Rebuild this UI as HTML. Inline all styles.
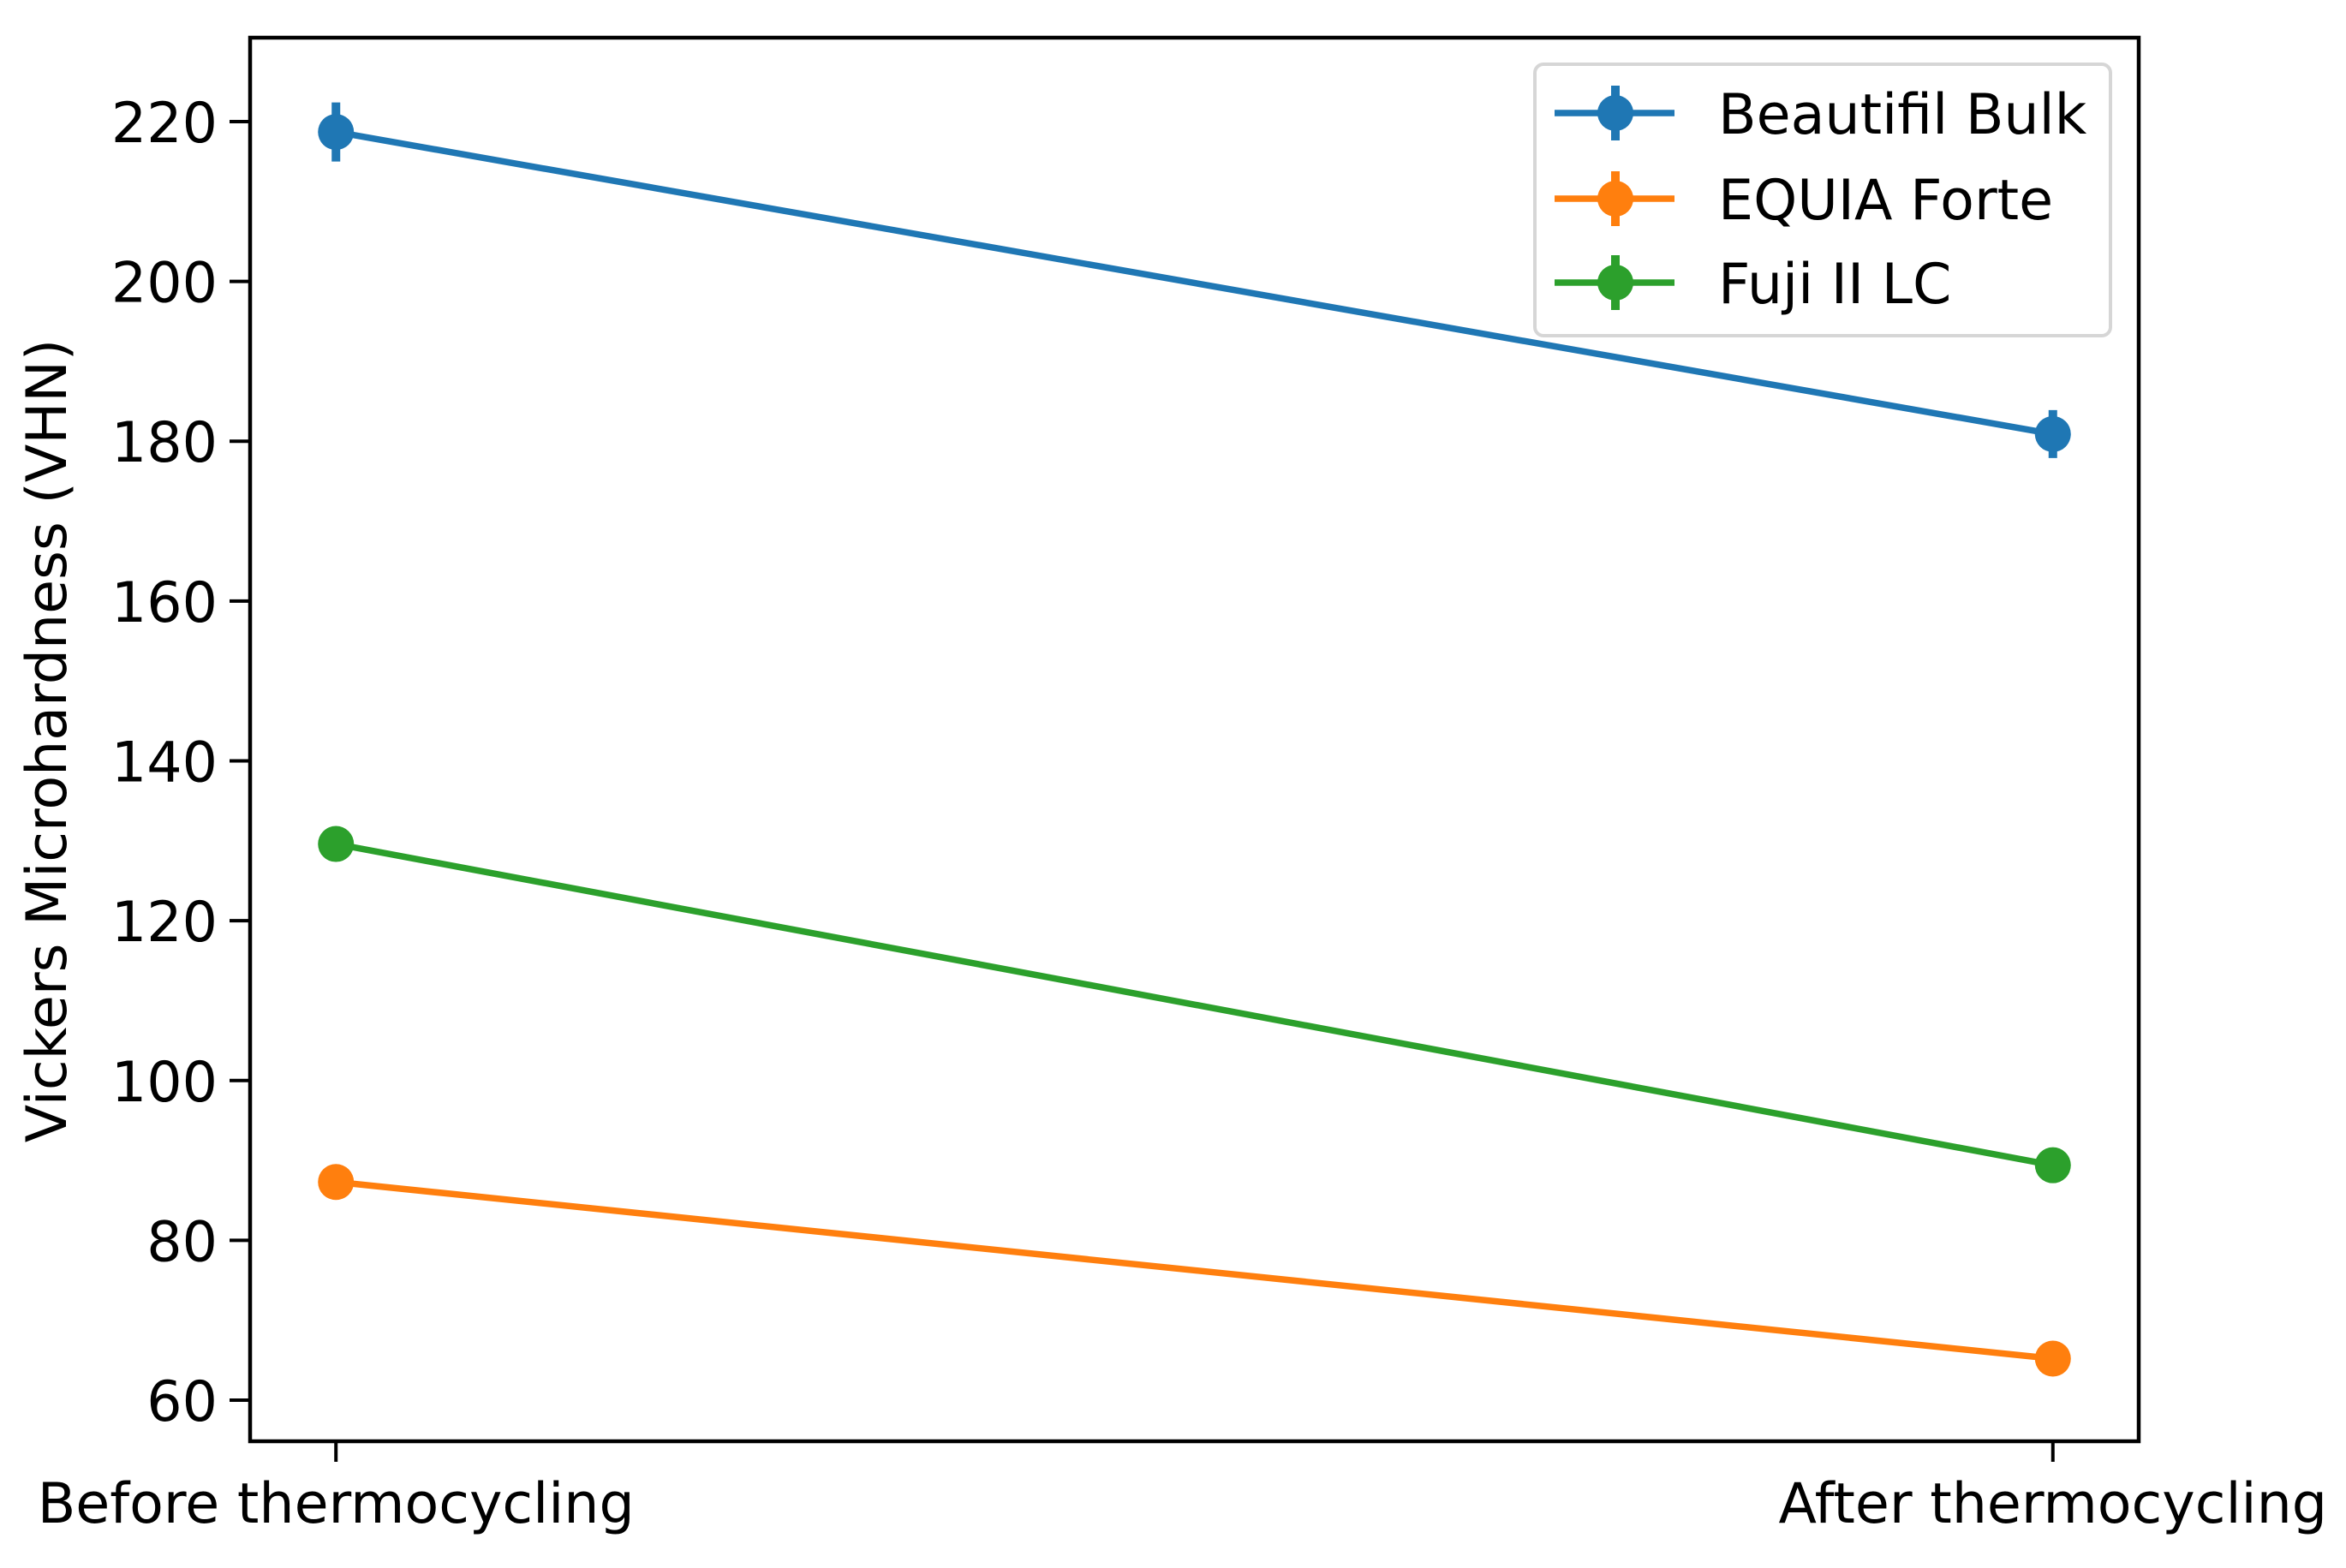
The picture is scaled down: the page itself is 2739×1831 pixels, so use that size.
<!DOCTYPE html>
<html><head><meta charset="utf-8"><style>
body{margin:0;background:#fff}
svg text{font-family:"DejaVu Sans","Liberation Sans",sans-serif;fill:#000}
</style></head><body>
<svg id="chart" width="2739" height="1826" viewBox="0 0 2739 1826" xmlns="http://www.w3.org/2000/svg">
<rect width="2739" height="1826" fill="#fff"/>
<g id="plot"></g>
<g id="axes"></g>
<g id="legend"></g>
</svg>
<script>
const categories = ["Before thermocycling", "After thermocycling"];
const seriesNames = ["Beautifil Bulk", "EQUIA Forte", "Fuji II LC"];
const beautifilValues = [218.7, 180.9];
const beautifilErrors = [3.7, 3.0];
const equiaValues = [87.3, 65.2];
const equiaErrors = [1.0, 1.0];
const fujiValues = [129.6, 89.4];
const fujiErrors = [1.0, 2.0];
const yTicks = [60, 80, 100, 120, 140, 160, 180, 200, 220];

const NS = "http://www.w3.org/2000/svg";
const L = 292, R = 2497, T = 44, B = 1683;
const yMin = 54.86, yMax = 230.5;
const FS = 65;
function xs(i){ return L + (i + 0.05) / 1.1 * (R - L); }
function ys(v){ return B - (v - yMin) / (yMax - yMin) * (B - T); }
function mk(tag, attrs, parent){
  const e = document.createElementNS(NS, tag);
  for (const k in attrs) e.setAttribute(k, attrs[k]);
  parent.appendChild(e); return e;
}
const plot = document.getElementById('plot');
const axes = document.getElementById('axes');
const legend = document.getElementById('legend');
const colors = ["#1f77b4", "#ff7f0e", "#2ca02c"];
const allVals = [beautifilValues, equiaValues, fujiValues];
const allErrs = [beautifilErrors, equiaErrors, fujiErrors];

allVals.forEach((vals, s) => {
  const g = mk('g', {}, plot);
  
  
  const pts = vals.map((v, i) => xs(i) + ',' + ys(v)).join(' ');
  const line = mk('polyline', {points: pts, fill: 'none', stroke: colors[s], 'stroke-width': 7.5}, g);
  
  
  vals.forEach((v, i) => {
    const e = allErrs[s][i];
    const eb = mk('line', {x1: xs(i), x2: xs(i), y1: ys(v + e), y2: ys(v - e), stroke: colors[s], 'stroke-width': 10}, g);
    
    
    const c = mk('circle', {cx: xs(i), cy: ys(v), r: 21, fill: colors[s]}, g);
    
    
  });
});

const frame = mk('rect', {x: L, y: T, width: R - L, height: B - T, fill: 'none', stroke: '#000', 'stroke-width': 4.5}, axes);



yTicks.forEach(v => {
  const t = mk('line', {x1: L - 24, x2: L, y1: ys(v), y2: ys(v), stroke: '#000', 'stroke-width': 4}, axes);
  
  
  const tx = mk('text', {x: L - 38, y: ys(v) + 24, 'text-anchor': 'end', 'font-size': FS}, axes);
  tx.textContent = v;
  
  
});
categories.forEach((c, i) => {
  const t = mk('line', {x1: xs(i), x2: xs(i), y1: B, y2: B + 24, stroke: '#000', 'stroke-width': 4}, axes);
  
  
  const tx = mk('text', {x: xs(i), y: 1778, 'text-anchor': 'middle', 'font-size': FS}, axes);
  tx.textContent = c;
  
  
});
const yl = mk('text', {x: 0, y: 0, 'text-anchor': 'middle', 'font-size': FS, transform: 'translate(77,865) rotate(-90)'}, axes);
yl.textContent = 'Vickers Microhardness (VHN)';



const lb = mk('rect', {x: 1792, y: 75, width: 672, height: 317, rx: 10, fill: '#fff', 'fill-opacity': 0.8, stroke: '#d6d6d6', 'stroke-width': 4}, legend);


const legY = [132, 232, 330];
seriesNames.forEach((n, s) => {
  const g = mk('g', {}, legend);
  
  
  mk('line', {x1: 1815, x2: 1955, y1: legY[s], y2: legY[s], stroke: colors[s], 'stroke-width': 7.5}, g);
  mk('line', {x1: 1886, x2: 1886, y1: legY[s] - 32, y2: legY[s] + 32, stroke: colors[s], 'stroke-width': 10}, g);
  mk('circle', {cx: 1886, cy: legY[s], r: 21, fill: colors[s]}, g);
  const tx = mk('text', {x: 2006, y: legY[s] + 24, 'font-size': FS}, g);
  tx.textContent = n;
  
  
});
</script>
</body></html>
